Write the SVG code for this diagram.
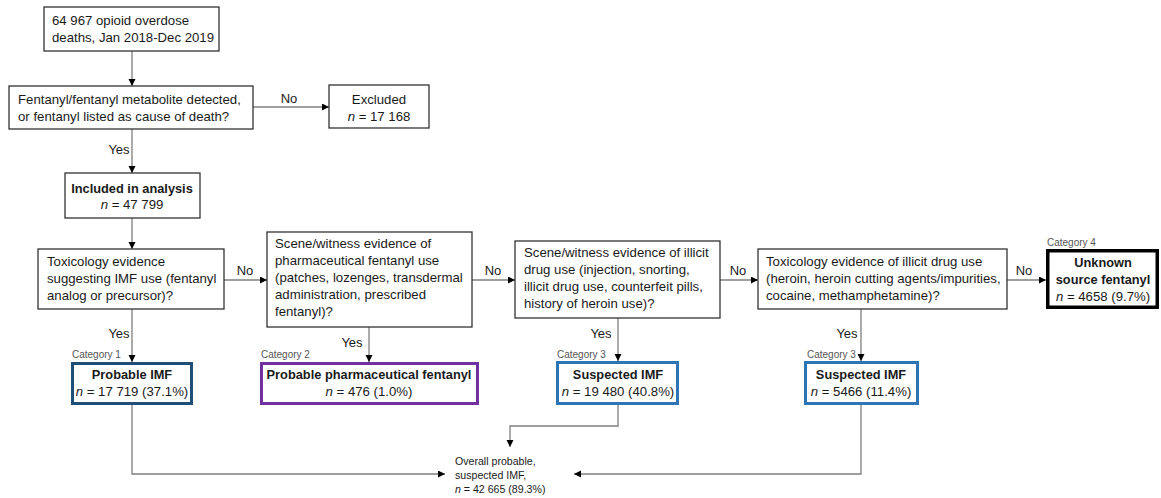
<svg xmlns="http://www.w3.org/2000/svg" width="1161" height="498" viewBox="0 0 1161 498">
<style>
text{font-family:"Liberation Sans",Arial,sans-serif;font-size:13.2px;fill:#1a1a1a}
.b{font-weight:bold;font-size:12.8px}
.c{text-anchor:middle}
.i{font-style:italic}
.cat{font-size:10px;fill:#555}
.lbl{font-size:13px}
.box{fill:#fff;stroke:#333;stroke-width:1.3}
.cn{fill:none;stroke:#7f7f7f;stroke-width:1.3}
.ov{font-size:10.6px}
</style>
<defs>
<marker id="ah" markerUnits="userSpaceOnUse" markerWidth="8" markerHeight="8" refX="7" refY="3.5" orient="auto">
<path d="M0,0 L7,3.5 L0,7 z" fill="#000"/>
</marker>
</defs>
<rect width="1161" height="498" fill="#fff"/>
<g id="connectors">
<path class="cn" d="M132,51 V86" marker-end="url(#ah)"/>
<path class="cn" d="M253,107 H329" marker-end="url(#ah)"/>
<path class="cn" d="M132,129 V173" marker-end="url(#ah)"/>
<path class="cn" d="M132,218 V249" marker-end="url(#ah)"/>
<path class="cn" d="M224,280 H267" marker-end="url(#ah)"/>
<path class="cn" d="M472,280 H515" marker-end="url(#ah)"/>
<path class="cn" d="M720,280 H758" marker-end="url(#ah)"/>
<path class="cn" d="M1007,280 H1046" marker-end="url(#ah)"/>
<path class="cn" d="M132,309 V362" marker-end="url(#ah)"/>
<path class="cn" d="M369,327 V362" marker-end="url(#ah)"/>
<path class="cn" d="M618,318 V361" marker-end="url(#ah)"/>
<path class="cn" d="M861,309 V361" marker-end="url(#ah)"/>
<path class="cn" d="M132,405 V474 H445" marker-end="url(#ah)"/>
<path class="cn" d="M618,405 V426 H510 V447" marker-end="url(#ah)"/>
<path class="cn" d="M861,405 V474 H574" marker-end="url(#ah)"/>
<text class="lbl c" x="289" y="103">No</text>
<text class="lbl c" x="119" y="154">Yes</text>
<text class="lbl c" x="245" y="275">No</text>
<text class="lbl c" x="493" y="275">No</text>
<text class="lbl c" x="738" y="275">No</text>
<text class="lbl c" x="1024" y="275">No</text>
<text class="lbl c" x="119" y="338">Yes</text>
<text class="lbl c" x="352" y="347">Yes</text>
<text class="lbl c" x="601" y="338">Yes</text>
<text class="lbl c" x="847" y="338">Yes</text>
</g>
<g id="start">
<rect class="box" x="44" y="7" width="175" height="44"/>
<text x="52" y="25">64 967 opioid overdose</text>
<text x="52" y="42">deaths, Jan 2018-Dec 2019</text>
</g>
<g id="q-fentanyl">
<rect class="box" x="9" y="86" width="244" height="43"/>
<text x="18" y="104">Fentanyl/fentanyl metabolite detected,</text>
<text x="18" y="121">or fentanyl listed as cause of death?</text>
</g>
<g id="excluded">
<rect class="box" x="329" y="85" width="100" height="43"/>
<text class="c" x="379" y="104">Excluded</text>
<text class="c" x="379" y="121"><tspan class="i">n</tspan> = 17 168</text>
</g>
<g id="included">
<rect class="box" x="65" y="173" width="135" height="45"/>
<text class="c b" x="132" y="193">Included in analysis</text>
<text class="c" x="132" y="209"><tspan class="i">n</tspan> = 47 799</text>
</g>
<g id="q-tox-imf">
<rect class="box" x="38" y="249" width="186" height="60"/>
<text x="47" y="266">Toxicology evidence</text>
<text x="47" y="283">suggesting IMF use (fentanyl</text>
<text x="47" y="300">analog or precursor)?</text>
</g>
<g id="q-scene-pharma">
<rect class="box" x="267" y="232" width="205" height="95"/>
<text x="275" y="248">Scene/witness evidence of</text>
<text x="275" y="265">pharmaceutical fentanyl use</text>
<text x="275" y="282">(patches, lozenges, transdermal</text>
<text x="275" y="299">administration, prescribed</text>
<text x="275" y="316">fentanyl)?</text>
</g>
<g id="q-scene-illicit">
<rect class="box" x="515" y="241" width="205" height="77"/>
<text x="524" y="257">Scene/witness evidence of illicit</text>
<text x="524" y="274">drug use (injection, snorting,</text>
<text x="524" y="291">illicit drug use, counterfeit pills,</text>
<text x="524" y="308">history of heroin use)?</text>
</g>
<g id="q-tox-illicit">
<rect class="box" x="758" y="249" width="249" height="60"/>
<text x="766" y="266">Toxicology evidence of illicit drug use</text>
<text x="766" y="283">(heroin, heroin cutting agents/impurities,</text>
<text x="766" y="300">cocaine, methamphetamine)?</text>
</g>
<g id="unknown">
<text class="cat" x="1047" y="246">Category 4</text>
<rect x="1047.75" y="250.75" width="109.5" height="56.5" fill="#fff" stroke="#000" stroke-width="3.5"/>
<text class="c b" x="1103" y="267">Unknown</text>
<text class="c b" x="1103" y="284">source fentanyl</text>
<text class="c" x="1103" y="301"><tspan class="i">n</tspan> = 4658 (9.7%)</text>
</g>
<g id="probable-imf">
<text class="cat" x="72" y="358">Category 1</text>
<rect x="72.5" y="363.5" width="119" height="40" fill="#fff" stroke="#1f4e79" stroke-width="3"/>
<text class="c b" x="132" y="379">Probable IMF</text>
<text class="c" x="132" y="396"><tspan class="i">n</tspan> = 17 719 (37.1%)</text>
</g>
<g id="probable-pharma">
<text class="cat" x="261" y="358">Category 2</text>
<rect x="261.5" y="363.5" width="216" height="40" fill="#fff" stroke="#7030a0" stroke-width="3"/>
<text class="c b" x="369" y="379">Probable pharmaceutical fentanyl</text>
<text class="c" x="369" y="396"><tspan class="i">n</tspan> = 476 (1.0%)</text>
</g>
<g id="suspected-imf-1">
<text class="cat" x="557" y="358">Category 3</text>
<rect x="557.5" y="362.5" width="120" height="41" fill="#fff" stroke="#2e75b6" stroke-width="3"/>
<text class="c b" x="618" y="379">Suspected IMF</text>
<text class="c" x="618" y="396"><tspan class="i">n</tspan> = 19 480 (40.8%)</text>
</g>
<g id="suspected-imf-2">
<text class="cat" x="807" y="358">Category 3</text>
<rect x="805.5" y="362.5" width="112" height="41" fill="#fff" stroke="#2e75b6" stroke-width="3"/>
<text class="c b" x="861" y="379">Suspected IMF</text>
<text class="c" x="861" y="396"><tspan class="i">n</tspan> = 5466 (11.4%)</text>
</g>
<g id="overall">
<text class="ov" x="455" y="465">Overall probable,</text>
<text class="ov" x="455" y="479">suspected IMF,</text>
<text class="ov" x="455" y="493"><tspan class="i">n</tspan> = 42 665 (89.3%)</text>
</g>
</svg>
